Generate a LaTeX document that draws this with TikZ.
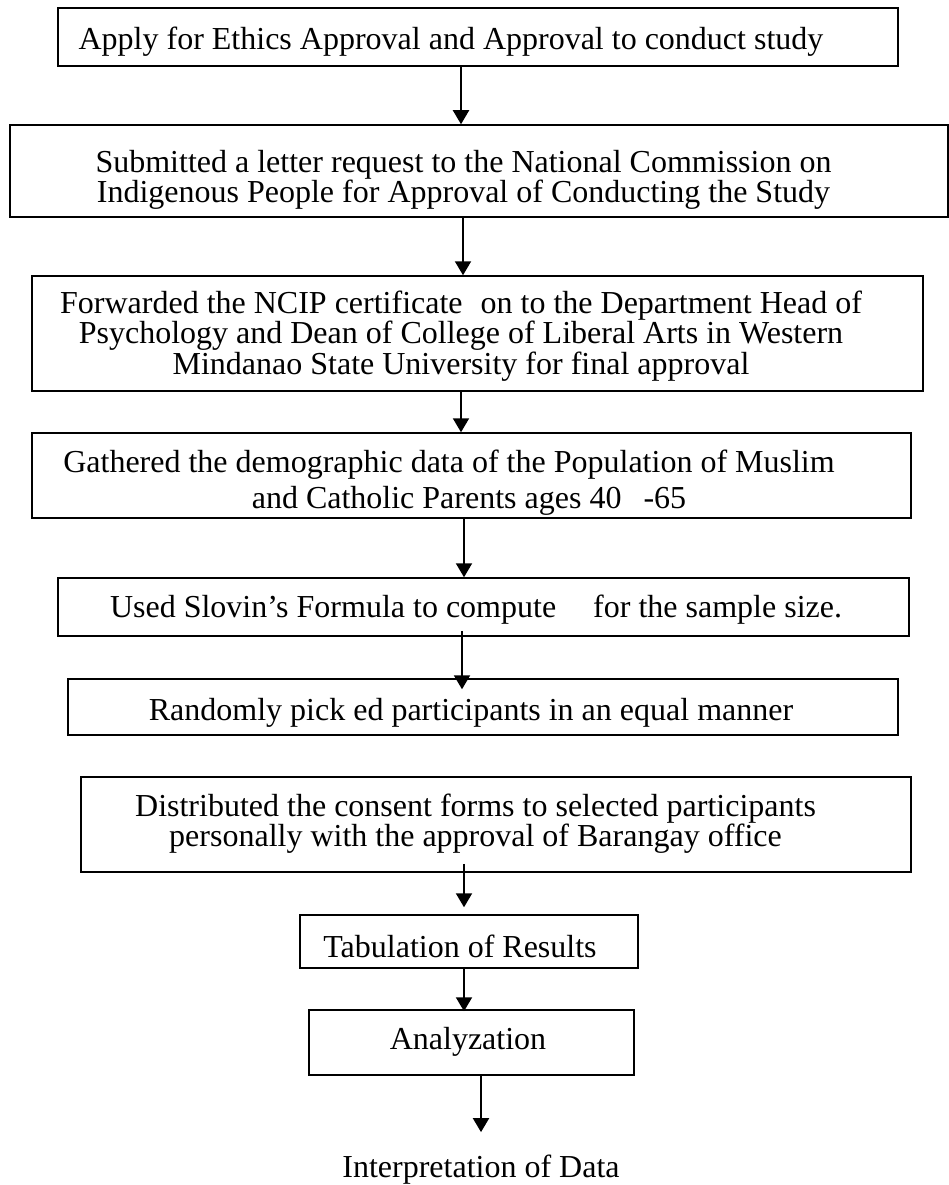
\documentclass[tikz,border=0pt]{standalone}
\usepackage{fontspec}
\setmainfont{Liberation Serif}
\usepackage{tikz}
\usetikzlibrary{arrows.meta}
\tikzset{
	procbox/.style={draw, line width=1.5pt, inner sep=0pt},
	proctext/.style={inner sep=0pt, align=center, font=\fontsize{32}{28}\selectfont},
	procarrow/.style={line width=2pt, -{Triangle[length=14pt, width=16pt]}}
}

\begin{document}
\begin{tikzpicture}[x=1pt, y=-1pt]
		%%%%% START %%%%%
		\useasboundingbox (0, 0) rectangle (949, 1185);
		
		\node[procbox, minimum width=840pt, minimum height=58pt] (b1) at (478, 37) {};
		\node[proctext] (t1) at (451, 42) {Apply for Ethics Approval and Approval to conduct study};
		
		\node[procbox, minimum width=938pt, minimum height=92pt] (b2) at (479, 171) {};
		\node[proctext] (t2) at (463.5, 180) {Submitted a letter request to the National Commission on\\
			Indigenous People for Approval of Conducting the Study};
		
		\node[procbox, minimum width=891pt, minimum height=115pt] (b3) at (477.5, 333.5) {};
		\node[proctext] (t3) at (461, 336) {Forwarded the NCIP certificate\hspace{10pt} on to the Department Head of\\
			Psychology and Dean of College of Liberal Arts in Western\\
			Mindanao State University for final approval};
		
		\node[procbox, minimum width=879pt, minimum height=85pt] (b4) at (471.5, 475.5) {};
		\node[proctext, font=\fontsize{32}{36}\selectfont] (t4) at (449, 482.5) {Gathered the demographic data of the Population of Muslim\\
			\hspace*{40pt}and Catholic Parents ages 40\hspace{14pt} -65};
		
		\node[procbox, minimum width=851pt, minimum height=58pt] (b5) at (483.5, 607) {};
		\node[proctext] (t5) at (476, 609.5) {Used Slovin’s Formula to compute\hspace{29pt} for the sample size.};
		
		\node[procbox, minimum width=830pt, minimum height=56pt] (b6) at (483, 707) {};
		\node[proctext] (t6) at (471, 712.5) {Randomly pick ed participants in an equal manner};
		
		\node[procbox, minimum width=830pt, minimum height=95pt] (b7) at (496, 824.5) {};
		\node[proctext] (t7) at (475.5, 823.5) {Distributed the consent forms to selected participants\\
			personally with the approval of Barangay office};
		
		\node[procbox, minimum width=338pt, minimum height=53pt] (b8) at (469, 941.5) {};
		\node[proctext] (t8) at (460, 946.5) {Tabulation of Results};
		
		\node[procbox, minimum width=325pt, minimum height=65pt] (b9) at (471.5, 1042.5) {};
		\node[proctext] (t9) at (468, 1041.5) {Analyzation};
		
		\node[proctext] (t10) at (481, 1170) {Interpretation of Data};
		
		% arrows
		\draw[procarrow] (461, 0 |- b1.south) -- (461, 0 |- b2.north);
		\draw[procarrow] (463, 0 |- b2.south) -- (463, 0 |- b3.north);
		\draw[procarrow] (461, 0 |- b3.south) -- (461, 0 |- b4.north);
		\draw[procarrow] (464, 0 |- b4.south) -- (464, 0 |- b5.north);
		\draw[procarrow, shorten <=-6pt, shorten >=-11pt] (462, 0 |- b5.south) -- (462, 0 |- b6.north);
		\draw[procarrow, shorten <=-9pt, shorten >=7pt] (464, 0 |- b7.south) -- (464, 0 |- b8.north);
		\draw[procarrow, shorten >=-2pt] (464, 0 |- b8.south) -- (464, 0 |- b9.north);
		\draw[procarrow, shorten >=23pt] (481, 0 |- b9.south) -- (481, 0 |- t10.north);
		
		%%%%% END %%%%%
	\end{tikzpicture}
\end{document}
